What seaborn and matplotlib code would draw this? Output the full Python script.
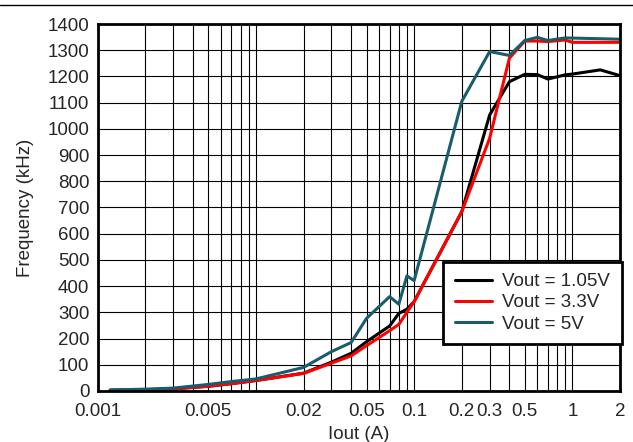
import numpy as np
import pandas as pd
import matplotlib
matplotlib.use("Agg")
import matplotlib.pyplot as plt
import matplotlib.ticker as mticker
from matplotlib.lines import Line2D
import seaborn as sns

# load current (A)
x_105 = [0.0012, 0.002, 0.003, 0.005, 0.007, 0.01, 0.02, 0.03, 0.04, 0.05, 0.07, 0.08,
         0.09, 0.1, 0.2, 0.3, 0.4, 0.5, 0.6, 0.7, 0.9, 1, 1.5, 2]
f_105 = [3, 5, 8, 18, 28, 40, 68, 110, 144, 188, 248, 296,
         312, 341, 684, 1053, 1180, 1208, 1207, 1190, 1206, 1209, 1225, 1203]

x_33 = [0.0012, 0.002, 0.003, 0.005, 0.007, 0.01, 0.02, 0.03, 0.04, 0.05, 0.07, 0.08,
        0.1, 0.2, 0.3, 0.4, 0.5, 0.6, 0.7, 0.9, 1, 2]
f_33 = [3, 5, 8, 18, 28, 40, 67, 106, 134, 173, 230, 254,
        341, 684, 964, 1270, 1335, 1335, 1333, 1339, 1330, 1330]

x_5 = [0.0012, 0.002, 0.003, 0.005, 0.007, 0.01, 0.02, 0.03, 0.04, 0.05, 0.07, 0.08,
       0.09, 0.1, 0.2, 0.3, 0.4, 0.5, 0.6, 0.7, 0.9, 2]
f_5 = [4, 7, 11, 25, 36, 46, 90, 150, 185, 277, 360, 331,
       439, 421, 1105, 1295, 1280, 1337, 1349, 1337, 1347, 1342]

series = [("Vout = 1.05V", x_105, f_105, "black"),
          ("Vout = 3.3V", x_33, f_33, "#ff0000"),
          ("Vout = 5V", x_5, f_5, "#1a5c6b")]

x_ticks = [0.001, 0.005, 0.02, 0.05, 0.1, 0.2, 0.3, 0.5, 1, 2]
x_ticklabels = ["0.001", "0.005", "0.02", "0.05", "0.1", "0.2", "0.3", "0.5", "1", "2"]
y_ticks = list(range(0, 1401, 100))

sns.set_style("white")
plt.rcParams["font.family"] = ["Liberation Sans", "DejaVu Sans"]

fig = plt.figure(figsize=(6.33, 4.42), dpi=100)
ax = fig.add_axes([0.1543, 0.1154, 0.8252, 0.8303])

for name, xs, ys, col in series:
    df = pd.DataFrame({"iout": xs, "freq": ys})
    sns.lineplot(data=df, x="iout", y="freq", ax=ax, color=col, linewidth=2.2,
                 label=name, estimator=None, sort=False)

ax.set_xscale("log")
ax.set_xlim(0.001, 2)
ax.set_ylim(0, 1400)

ax.xaxis.set_major_locator(mticker.FixedLocator(x_ticks))
ax.xaxis.set_major_formatter(mticker.FixedFormatter(x_ticklabels))
ax.xaxis.set_minor_locator(mticker.LogLocator(base=10, subs=np.arange(1, 10)))
ax.xaxis.set_minor_formatter(mticker.NullFormatter())
ax.set_yticks(y_ticks)

ax.grid(True, which="both", color="black", linewidth=0.8)
ax.tick_params(which="both", length=0, labelsize=13.5)
ax.tick_params(axis="x", pad=9)
ax.tick_params(axis="y", pad=6)

for sp in ax.spines.values():
    sp.set_color("black")
    sp.set_linewidth(2.0)

ax.set_xlabel("Iout (A)", fontsize=13.5, labelpad=4)
ax.set_ylabel("Frequency (kHz)", fontsize=13.5, labelpad=10)

leg = ax.legend(loc="upper right", bbox_to_anchor=(1.003, 0.352), borderaxespad=0,
                fontsize=13.5, frameon=True, fancybox=False, framealpha=1,
                edgecolor="black", handlelength=2.0, handletextpad=0.55,
                labelspacing=0.22, borderpad=0.6)
leg.get_frame().set_linewidth(2.0)

fig.add_artist(Line2D([0, 1], [1 - 5 / 442, 1 - 5 / 442], color="black", linewidth=1.0,
                      transform=fig.transFigure))

fig.savefig("out.png", dpi=100)
